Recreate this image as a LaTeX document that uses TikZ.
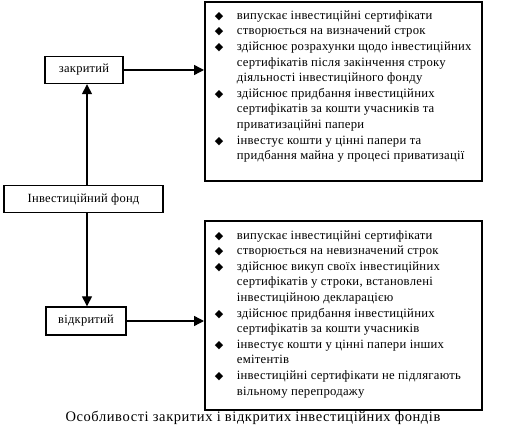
\documentclass[tikz,border=0pt]{standalone}
\usepackage{fontspec}
\setmainfont{Liberation Serif}[LetterSpace=2]
\newfontfamily\capfont{Liberation Serif}[LetterSpace=4]
\newfontfamily\symfont{DejaVu Sans}
\usetikzlibrary{arrows.meta}
\newcommand{\bul}{{\symfont\fontsize{11}{11}\selectfont ◆}}
\newenvironment{itemtab}{\hbox to 257pt\bgroup\begin{tabular}{@{}p{22pt}@{}l@{}}}{\end{tabular}\hss\egroup}
\tikzset{
  smallbox/.style={draw, line width=1.4pt, minimum height=27pt, inner sep=0pt, font=\fontsize{12.5}{15}\selectfont},
  bigbox/.style={draw, line width=1.8pt, anchor=north west, minimum width=277pt, inner xsep=10pt, font=\fontsize{12.7}{15.6}\selectfont},
  conn/.style={line width=1.4pt, -{Triangle[length=10pt,width=10pt]}}
}
\begin{document}
\begin{tikzpicture}[x=1pt,y=-1pt]
\useasboundingbox (0,0) rectangle (530,427);
\node[smallbox, minimum width=159pt] (fund) at (83.5,199) {Інвестиційний фонд};
\node[smallbox, minimum width=78pt] (zak) at (84,70) {закритий};
\node[smallbox, minimum width=80pt, minimum height=28pt] (vid) at (86,321) {відкритий};
\node[bigbox, minimum height=179pt] (topb) at (204,1) {\begin{itemtab}
\bul & випускає інвестиційні сертифікати\\
\bul & створюється на визначений строк\\
\bul & здійснює розрахунки щодо інвестиційних\\
 & сертифікатів після закінчення строку\\
 & діяльності інвестиційного фонду\\
\bul & здійснює придбання інвестиційних\\
 & сертифікатів за кошти учасників та\\
 & приватизаційні папери\\
\bul & інвестує кошти у цінні папери та\\
 & придбання майна у процесі приватизації\\[10pt]
\end{itemtab}};
\node[bigbox, minimum height=189pt] (botb) at (204,220) {\begin{itemtab}
\bul & випускає інвестиційні сертифікати\\
\bul & створюється на невизначений строк\\
\bul & здійснює викуп своїх інвестиційних\\
 & сертифікатів у строки, встановлені\\
 & інвестиційною декларацією\\
\bul & здійснює придбання інвестиційних\\
 & сертифікатів за кошти учасників\\
\bul & інвестує кошти у цінні папери інших\\
 & емітентів\\
\bul & інвестиційні сертифікати не підлягають\\
 & вільному перепродажу\\[3pt]
\end{itemtab}};
\node[font=\capfont\fontsize{14.5}{16}\selectfont] (cap) at (253,418) {Особливості закритих і відкритих інвестиційних фондів};
\coordinate (fu) at (87,0);
\draw[conn] (fu |- fund.north) -- (fu |- zak.south);
\draw[conn] (fu |- fund.south) -- (fu |- vid.north);
\draw[conn] (zak.east) -- (zak.east -| topb.west);
\draw[conn] (vid.east) -- (vid.east -| botb.west);
\end{tikzpicture}
\end{document}
